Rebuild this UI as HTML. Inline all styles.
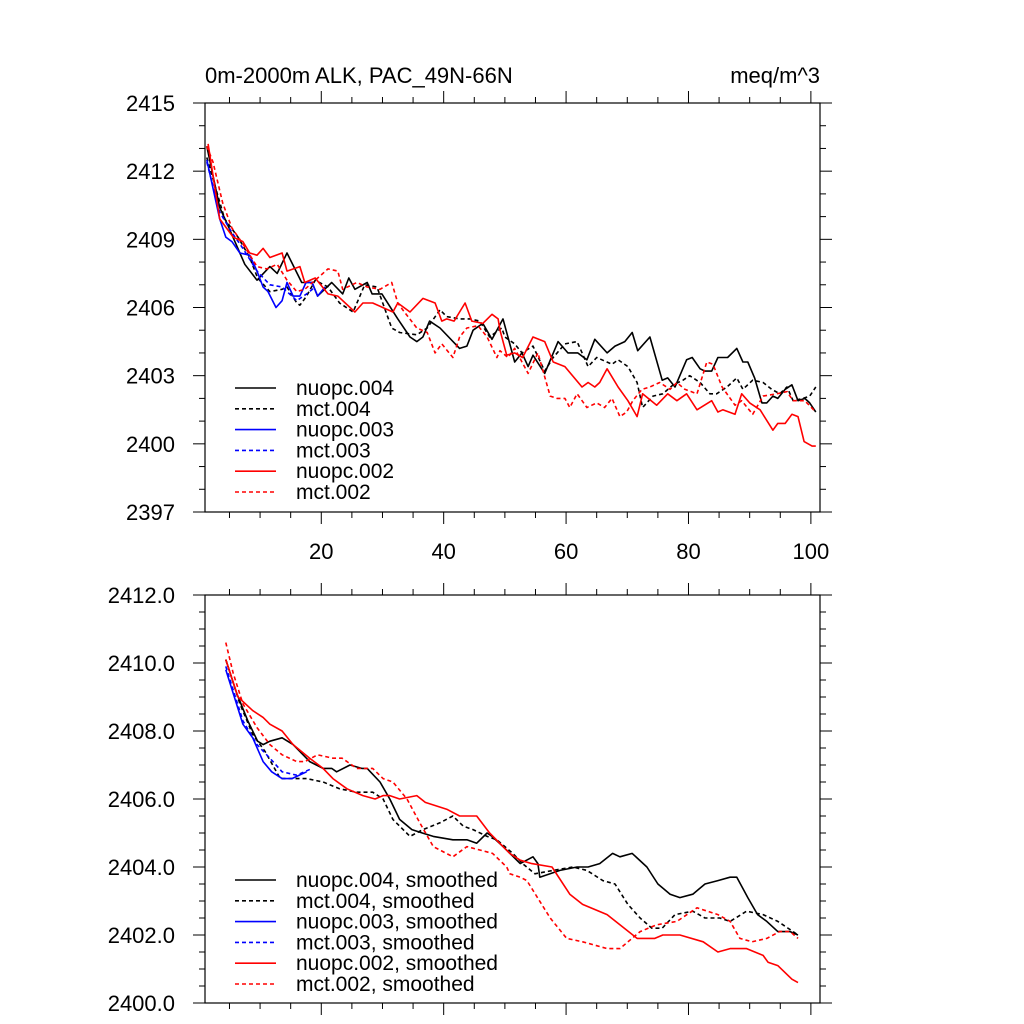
<!DOCTYPE html>
<html><head><meta charset="utf-8"><style>
html,body{margin:0;padding:0;background:#fff;}
svg{display:block;font-family:"Liberation Sans",sans-serif;}
</style></head><body>
<svg id="chart" width="1024" height="1024" viewBox="0 0 1024 1024" xmlns="http://www.w3.org/2000/svg">
<rect width="1024" height="1024" fill="#fff"/>
<text x="205" y="83" font-size="22">0m-2000m ALK, PAC_49N-66N</text>
<text x="820" y="83" font-size="22" text-anchor="end">meq/m^3</text>
<g id="top"></g>
<g id="bot"></g>
</svg>
<script>
// ---------- TOP PANEL DATA ----------
const topYTicks = [2397, 2400, 2403, 2406, 2409, 2412, 2415];
const xTicks = [20, 40, 60, 80, 100];
const n004X = [1.3,3.4,4.6,7.5,9.5,11.6,12.8,14.4,16.8,18.5,19.4,21.7,23.5,24.5,25.5,27.5,28.3,29.9,32.5,34.5,35.6,36.6,37.7,39.4,42.6,43.8,44.8,46.4,47.9,49.7,51.6,52.8,53.8,54.6,56.5,58.7,60.3,61.9,63.4,64.7,66.7,68.0,69.6,70.8,71.7,73.7,75.7,76.6,77.8,79.7,80.6,81.9,82.7,83.8,84.8,86.4,87.9,88.9,89.7,90.8,92.0,92.8,93.8,94.6,95.8,96.9,97.9,99.0,99.8,100.8];
const n004Y = [2413.1,2410.4,2409.7,2407.9,2407.2,2407.8,2407.5,2408.4,2407.1,2407.1,2406.5,2407.1,2406.6,2407.3,2406.8,2407.1,2406.6,2406.6,2405.5,2404.7,2404.5,2404.7,2405.4,2405.1,2404.2,2404.3,2405.0,2405.3,2404.6,2405.5,2403.6,2404.0,2403.4,2403.9,2403.1,2404.5,2404.0,2404.0,2403.7,2404.6,2404.0,2404.3,2404.5,2404.9,2404.1,2404.7,2402.8,2402.9,2402.5,2403.7,2403.8,2403.3,2403.2,2403.2,2403.8,2403.8,2404.2,2403.6,2403.6,2402.9,2401.8,2401.8,2402.1,2402.0,2402.4,2402.6,2401.9,2402.0,2401.8,2401.4];
const m004X = [1.3,4.2,6.4,8.3,9.6,11.6,13.6,14.4,16.0,16.5,17.6,19.0,21.1,23.0,25.2,27.1,29.1,31.5,32.8,35.6,37.3,39.4,40.5,42.6,44.3,45.9,47.5,49.5,50.0,51.6,52.8,54.6,56.5,57.9,59.8,61.8,63.6,65.0,67.5,68.5,70.1,71.6,72.5,74.2,75.8,77.5,79.1,80.2,81.9,83.5,84.6,86.3,87.9,88.9,90.5,92.2,93.6,94.9,96.1,97.1,98.7,99.8,100.8];
const m004Y = [2412.6,2409.9,2409.1,2408.2,2407.3,2406.7,2406.8,2406.9,2406.2,2406.1,2406.5,2407.2,2406.9,2406.2,2405.8,2407.0,2406.9,2405.1,2404.9,2404.8,2405.1,2405.9,2405.6,2405.5,2405.5,2405.4,2404.7,2405.1,2404.7,2404.4,2404.0,2404.3,2403.2,2403.8,2404.4,2404.5,2403.4,2403.8,2403.5,2403.7,2403.4,2402.7,2401.6,2402.1,2402.2,2402.6,2402.8,2403.0,2402.7,2402.2,2402.2,2402.5,2402.9,2402.4,2402.8,2402.7,2402.4,2402.2,2402.5,2401.9,2402.0,2402.1,2402.5];
const n003X = [1.3,3.4,4.4,5.4,6.7,8.3,9.5,10.5,11.3,12.6,13.6,14.4,15.4,16.5,17.5,18.5,19.4,20.6];
const n003Y = [2412.5,2409.9,2409.1,2408.9,2408.4,2408.3,2407.6,2406.9,2406.7,2406.0,2406.3,2407.1,2406.5,2406.5,2407.1,2407.1,2406.5,2406.9];
const m003X = [1.3,3.4,5.4,7.2,9.5,11.6,13.6,16.0,17.6,19.0];
const m003Y = [2412.4,2410.2,2409.3,2408.6,2407.6,2407.0,2406.9,2406.3,2406.6,2406.9];
const n002X = [1.5,3.4,5.6,7.2,8.3,9.5,10.5,11.6,13.6,14.4,16.5,17.3,19.0,21.1,22.7,25.5,26.8,28.4,31.7,32.5,34.5,36.6,38.6,39.7,40.5,41.7,42.6,43.5,44.6,46.4,47.9,48.9,49.2,50.3,51.6,52.9,54.6,56.5,57.9,59.8,62.6,63.6,64.7,65.5,66.7,68.5,70.1,71.6,72.5,74.8,76.6,78.1,79.7,81.4,83.8,84.8,85.6,87.6,88.7,90.0,91.7,93.8,94.6,95.8,96.9,97.9,98.9,100.2,100.8];
const n002Y = [2413.2,2409.9,2409.1,2408.9,2408.4,2408.3,2408.6,2408.2,2408.4,2407.6,2407.8,2407.1,2407.3,2406.6,2406.5,2405.8,2406.2,2406.2,2405.8,2406.2,2405.8,2406.4,2406.2,2405.4,2405.5,2405.4,2405.8,2406.2,2405.4,2405.3,2405.7,2405.5,2405.0,2403.9,2404.0,2403.8,2404.7,2404.5,2403.6,2403.4,2402.5,2402.7,2402.5,2402.7,2403.3,2402.5,2401.9,2401.2,2402.2,2401.7,2402.2,2401.9,2402.2,2401.5,2401.9,2401.4,2401.5,2401.3,2402.2,2401.8,2401.5,2400.6,2400.9,2400.9,2401.3,2401.2,2400.1,2399.9,2399.9];
const m002X = [1.3,2.3,3.9,5.4,7.2,9.5,11.1,12.8,14.4,16.0,17.3,19.0,21.1,22.7,23.5,25.8,27.5,29.6,31.5,32.5,33.3,35.6,37.3,38.6,39.7,41.5,42.6,43.8,45.6,47.1,48.7,49.2,50.5,51.6,53.8,55.4,57.4,58.5,59.8,60.6,61.8,63.4,65.0,66.3,67.5,68.8,69.9,70.9,72.4,73.7,75.3,77.0,78.1,79.4,81.4,83.0,84.0,85.5,87.6,88.7,90.5,92.2,94.4,96.1,97.1,99.0,100.8];
const m002Y = [2413.1,2412.4,2410.6,2409.5,2408.8,2407.8,2407.7,2407.9,2407.2,2406.7,2406.8,2407.2,2407.7,2407.6,2406.8,2407.1,2406.9,2406.8,2407.1,2406.2,2405.9,2405.1,2404.9,2404.0,2404.4,2403.8,2404.7,2405.1,2405.2,2404.7,2403.8,2404.1,2403.8,2404.2,2403.1,2404.0,2402.1,2402.0,2402.0,2401.6,2402.2,2401.6,2401.8,2401.6,2402.0,2401.2,2401.4,2401.9,2402.4,2402.5,2402.7,2402.4,2402.7,2402.4,2402.2,2403.6,2403.5,2402.5,2401.7,2401.9,2401.3,2402.1,2402.2,2402.3,2401.9,2401.9,2401.4];

// ---------- BOTTOM PANEL DATA ----------
const botYTicks = [2400.0, 2402.0, 2404.0, 2406.0, 2408.0, 2410.0, 2412.0];
const sn004X = [4.4,6.2,8.0,9.6,10.5,11.6,13.6,15.4,18.1,20.3,21.7,22.5,24.7,26.6,27.5,29.6,31.2,32.8,34.8,36.5,38.3,41.5,43.8,45.4,47.1,47.9,49.7,52.5,54.6,55.4,55.7,59.0,61.8,63.6,65.5,67.6,68.8,70.8,73.2,75.0,77.0,78.6,80.7,82.7,84.8,86.8,87.9,89.7,91.3,92.8,94.6,96.6,97.9];
const sn004Y = [2410.1,2409.1,2408.3,2407.7,2407.6,2407.7,2407.8,2407.6,2407.1,2406.9,2406.9,2406.8,2407.0,2406.9,2406.9,2406.5,2406.0,2405.4,2405.1,2405.0,2404.9,2404.8,2404.8,2404.7,2405.0,2404.9,2404.6,2404.1,2404.3,2404.1,2403.7,2403.9,2404.0,2404.0,2404.1,2404.4,2404.3,2404.4,2404.0,2403.5,2403.2,2403.1,2403.2,2403.5,2403.6,2403.7,2403.7,2403.1,2402.6,2402.4,2402.1,2402.1,2402.0];
const sm004X = [4.4,6.7,8.8,10.8,13.3,14.9,17.6,20.3,23.0,25.8,28.4,30.1,31.7,34.5,36.6,39.4,41.5,43.2,44.8,47.1,48.7,51.3,52.9,54.9,57.9,61.1,63.4,66.0,68.0,70.1,72.1,74.0,75.7,77.8,80.7,82.7,85.1,86.8,89.5,92.2,94.6,97.1,97.9];
const sm004Y = [2410.1,2408.8,2407.9,2407.4,2406.6,2406.6,2406.6,2406.5,2406.3,2406.2,2406.2,2406.0,2405.4,2404.9,2405.1,2405.3,2405.5,2405.2,2405.1,2404.9,2404.8,2404.4,2404.1,2403.8,2403.9,2404.0,2403.9,2403.6,2403.5,2402.9,2402.5,2402.2,2402.2,2402.6,2402.7,2402.5,2402.5,2402.4,2402.7,2402.6,2402.4,2402.1,2402.0];
const sn003X = [4.4,7.2,8.8,10.5,11.9,13.6,15.2,17.6];
const sn003Y = [2409.8,2408.2,2407.8,2407.1,2406.8,2406.6,2406.6,2406.8];
const sm003X = [4.4,7.2,9.5,11.6,13.6,16.0,18.5];
const sm003Y = [2409.9,2408.3,2407.6,2407.2,2406.8,2406.7,2406.9];
const sn002X = [4.4,6.4,8.8,10.5,11.6,13.6,15.4,18.1,20.3,21.9,24.2,26.8,28.8,30.1,31.2,32.8,35.6,37.0,40.5,42.6,45.4,47.5,50.8,52.5,54.4,57.7,60.6,62.7,66.7,68.8,71.6,72.5,74.5,75.8,78.6,82.4,84.8,86.8,89.5,92.2,93.0,94.6,96.9,97.9];
const sn002Y = [2410.1,2409.0,2408.6,2408.4,2408.2,2408.0,2407.6,2407.2,2406.9,2406.6,2406.3,2406.1,2406.0,2406.1,2406.1,2406.0,2406.1,2405.9,2405.7,2405.5,2405.5,2405.0,2404.4,2404.2,2404.1,2404.0,2403.2,2402.9,2402.6,2402.3,2401.9,2401.9,2401.9,2402.0,2402.0,2401.8,2401.5,2401.6,2401.6,2401.4,2401.2,2401.1,2400.7,2400.6];
const sm002X = [4.4,5.6,7.2,9.5,11.6,13.6,16.0,17.3,19.4,21.9,23.4,25.8,28.4,30.1,31.7,34.0,36.1,38.3,41.5,43.8,45.9,48.0,50.3,50.8,52.5,53.6,57.4,60.1,62.7,66.7,68.8,72.1,74.8,78.1,81.4,84.8,86.8,88.4,90.4,92.8,94.9,96.6,97.9];
const sm002Y = [2410.6,2409.7,2408.8,2408.1,2407.6,2407.3,2407.1,2407.1,2407.3,2407.2,2407.2,2406.9,2406.9,2406.6,2406.5,2406.0,2405.3,2404.6,2404.3,2404.6,2404.5,2404.4,2404.0,2403.8,2403.7,2403.6,2402.5,2401.9,2401.8,2401.6,2401.6,2402.1,2402.3,2402.4,2402.8,2402.6,2402.4,2401.9,2401.8,2401.9,2402.1,2402.1,2401.9];

const NS = 'http://www.w3.org/2000/svg';
function mk(tag, attrs, parent, text) {
  const e = document.createElementNS(NS, tag);
  for (const k in attrs) e.setAttribute(k, attrs[k]);
  if (text !== undefined) e.textContent = text;
  parent.appendChild(e);
  return e;
}
const X0 = 205, X1 = 820;
function xs(v) { return X0 + (v - 1) * 6.12; }

function panel(g, top, bottom, ymin, ymax, yticks, minorStep, dec, showX, series, legendY) {
  const ys = v => bottom - (v - ymin) / (ymax - ymin) * (bottom - top);
  const frame = mk('rect', {x: X0, y: top, width: X1 - X0, height: bottom - top, fill: 'none', stroke: '#000', 'stroke-width': 1.2}, g);
  
  
  for (let v = ymin; v <= ymax + 1e-9; v += minorStep) {
    const y = ys(v);
    const major = yticks.some(t => Math.abs(t - v) < 1e-6);
    const L = major ? 12 : 6;
    const t1 = mk('line', {x1: X0 - L, x2: X0, y1: y, y2: y, stroke: '#000', 'stroke-width': 1}, g);
    
    
    const t2 = mk('line', {x1: X1, x2: X1 + L, y1: y, y2: y, stroke: '#000', 'stroke-width': 1}, g);
    
    
  }
  yticks.forEach(v => {
    const t = mk('text', {x: 175, y: ys(v) + 8, 'font-size': 22, 'text-anchor': 'end'}, g, v.toFixed(dec));
    
    
  });
  for (let v = 5; v <= 100; v += 5) {
    const x = xs(v);
    const major = v % 20 === 0;
    const L = major ? 12 : 6;
    const a = mk('line', {x1: x, x2: x, y1: top - L, y2: top, stroke: '#000', 'stroke-width': 1}, g);
    
    
    const b = mk('line', {x1: x, x2: x, y1: bottom, y2: bottom + L, stroke: '#000', 'stroke-width': 1}, g);
    
    
  }
  if (showX) xTicks.forEach(v => {
    const t = mk('text', {x: xs(v), y: bottom + 47, 'font-size': 22, 'text-anchor': 'middle'}, g, String(v));
    
    
  });
  series.forEach((s, i) => {
    const pts = s.x.map((xv, j) => xs(xv).toFixed(1) + ',' + ys(s.y[j]).toFixed(1)).join(' ');
    const attrs = {points: pts, fill: 'none', stroke: s.c, 'stroke-width': 1.6, 'stroke-linejoin': 'round'};
    if (s.d) attrs['stroke-dasharray'] = '4,3';
    const pl = mk('polyline', attrs, g);
    
    
    const ly = legendY + i * 20.8;
    const la = {x1: 235, x2: 276, y1: ly, y2: ly, stroke: s.c, 'stroke-width': 1.6};
    if (s.d) la['stroke-dasharray'] = '4,3';
    const ll = mk('line', la, g);
    
    
    const lt = mk('text', {x: 296, y: ly + 7, 'font-size': 21}, g, s.label);
    
    
  });
}

panel(document.getElementById('top'), 103, 512, 2397, 2415, topYTicks, 1, 0, true, [
  {key: 'nuopc-004', x: n004X, y: n004Y, c: '#000', d: false, label: 'nuopc.004'},
  {key: 'mct-004', x: m004X, y: m004Y, c: '#000', d: true, label: 'mct.004'},
  {key: 'nuopc-003', x: n003X, y: n003Y, c: '#0000ff', d: false, label: 'nuopc.003'},
  {key: 'mct-003', x: m003X, y: m003Y, c: '#0000ff', d: true, label: 'mct.003'},
  {key: 'nuopc-002', x: n002X, y: n002Y, c: '#ff0000', d: false, label: 'nuopc.002'},
  {key: 'mct-002', x: m002X, y: m002Y, c: '#ff0000', d: true, label: 'mct.002'}
], 388);

panel(document.getElementById('bot'), 595, 1003, 2400, 2412, botYTicks, 0.5, 1, false, [
  {key: 'nuopc-004-smoothed', x: sn004X, y: sn004Y, c: '#000', d: false, label: 'nuopc.004, smoothed'},
  {key: 'mct-004-smoothed', x: sm004X, y: sm004Y, c: '#000', d: true, label: 'mct.004, smoothed'},
  {key: 'nuopc-003-smoothed', x: sn003X, y: sn003Y, c: '#0000ff', d: false, label: 'nuopc.003, smoothed'},
  {key: 'mct-003-smoothed', x: sm003X, y: sm003Y, c: '#0000ff', d: true, label: 'mct.003, smoothed'},
  {key: 'nuopc-002-smoothed', x: sn002X, y: sn002Y, c: '#ff0000', d: false, label: 'nuopc.002, smoothed'},
  {key: 'mct-002-smoothed', x: sm002X, y: sm002Y, c: '#ff0000', d: true, label: 'mct.002, smoothed'}
], 880);
</script>
</body></html>
